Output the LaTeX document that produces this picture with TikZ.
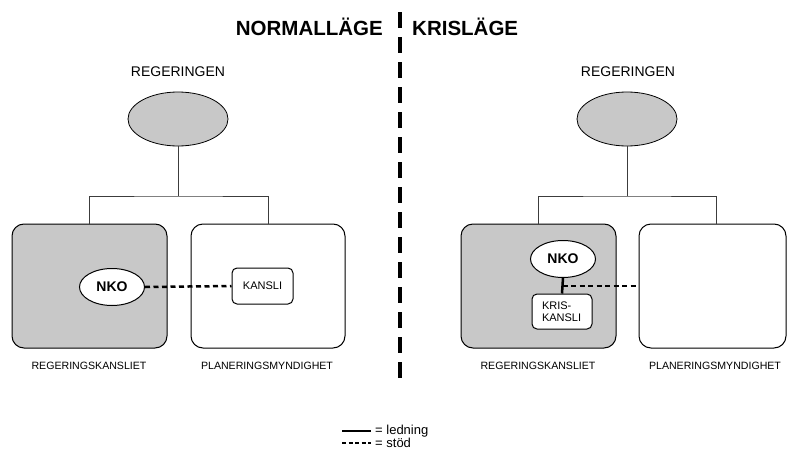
\documentclass[tikz,border=0pt]{standalone}
\usepackage{fontspec}
\setmainfont{Liberation Sans}
\usetikzlibrary{shapes.geometric,calc}
\definecolor{boxgray}{RGB}{200,200,200}
\definecolor{treeline}{RGB}{60,60,60}
\tikzset{
  title/.style={font=\fontsize{20.5}{22}\selectfont\bfseries, inner sep=0pt},
  lbl/.style={font=\fontsize{14}{16}\selectfont, inner sep=0pt},
  small/.style={font=\fontsize{10.6}{12}\selectfont, inner sep=0pt},
  govell/.style={ellipse, draw=black, line width=0.8pt, fill=boxgray, minimum width=100pt, minimum height=54pt, inner sep=0pt},
  bigbox/.style={draw=black, line width=1pt, rounded corners=12pt, minimum height=124pt, inner sep=0pt},
  nkoell/.style={ellipse, draw=black, line width=1pt, fill=white, minimum width=65pt, minimum height=37pt, inner sep=0pt, font=\fontsize{14}{16}\selectfont\bfseries},
  smallbox/.style={draw=black, line width=1pt, fill=white, rounded corners=5pt, minimum width=61pt, minimum height=36pt, inner sep=0pt, font=\fontsize{11}{12}\selectfont},
  tree/.style={draw=treeline, line width=0.8pt},
  lead/.style={draw=black, line width=2.5pt},
  supp/.style={draw=black, line width=2.5pt, dash pattern=on 5pt off 3.5pt},
  divider/.style={draw=black, line width=4pt, dash pattern=on 16pt off 9pt}
}
\begin{document}
\begin{tikzpicture}[x=1pt,y=-1pt]
\useasboundingbox (0,0) rectangle (787,455);
% titles and divider
\node[title, anchor=base east] (tN) at (383,35) {NORMALLÄGE};
\node[title, anchor=base west] (tK) at (412,35) {KRISLÄGE};
\coordinate (dTop) at (400,12);
\coordinate (dBot) at (400,385);
\draw[divider] (dTop) -- (dBot);

% ---------- left: normal ----------
\node[lbl] (regL) at (178,72) {REGERINGEN};
\node[govell] (govL) at (178,119) {};
\coordinate (busL) at (178,196);
\node[bigbox, fill=boxgray, minimum width=155pt] (rkL) at (89.5,286) {};
\node[bigbox, fill=white, minimum width=154pt] (pmL) at (268,286) {};
\draw[tree] (govL.south) -- (busL);
\draw[tree] (rkL.north) |- (busL) -| (pmL.north);
\node[nkoell] (nkoL) at (112,287) {NKO};
\node[smallbox] (kansli) at (262.5,286) {KANSLI};
\draw[supp] (nkoL.east) -- (kansli.west);
\node[small] (rkLlab) at (89,366) {REGERINGSKANSLIET};
\node[small] (pmLlab) at (267,366) {PLANERINGSMYNDIGHET};

% ---------- right: kris ----------
\node[lbl] (regR) at (628,72) {REGERINGEN};
\node[govell] (govR) at (627,119) {};
\coordinate (busR) at (627,196);
\node[bigbox, fill=boxgray, minimum width=155pt] (rkR) at (538.5,286) {};
\node[bigbox, fill=white, minimum width=147pt] (pmR) at (712.5,286) {};
\draw[tree] (govR.south) -- (busR);
\draw[tree] (rkR.north) |- (busR) -| ($(pmR.north)+(3.5,0)$);
\node[nkoell] (nkoR) at (563,259) {NKO};
\node[smallbox, minimum width=60pt, minimum height=35pt, align=left] (kk) at (562,311.5) {\parbox{40pt}{KRIS-\\KANSLI}};
\draw[lead] (nkoR.south) -- (kk.north);
\coordinate (mid) at ($(nkoR.south)!0.5!(kk.north)$);
\draw[supp] (mid) -- (mid -| pmR.west);
\node[small] (rkRlab) at (538,366) {REGERINGSKANSLIET};
\node[small] (pmRlab) at (715,366) {PLANERINGSMYNDIGHET};

% ---------- legend ----------
\coordinate (l1a) at (342,431);
\coordinate (l1b) at (371,431);
\coordinate (l2a) at (342,443);
\coordinate (l2b) at (371,443);
\draw[black, line width=2pt] (l1a) -- (l1b);
\draw[black, line width=2pt, dash pattern=on 4pt off 2.5pt] (l2a) -- (l2b);
\node[font=\fontsize{13}{14}\selectfont, inner sep=0pt, anchor=west] (leg1) at (375,431) {= ledning};
\node[font=\fontsize{13}{14}\selectfont, inner sep=0pt, anchor=west] (leg2) at (375,443) {= stöd};
\end{tikzpicture}
\end{document}
